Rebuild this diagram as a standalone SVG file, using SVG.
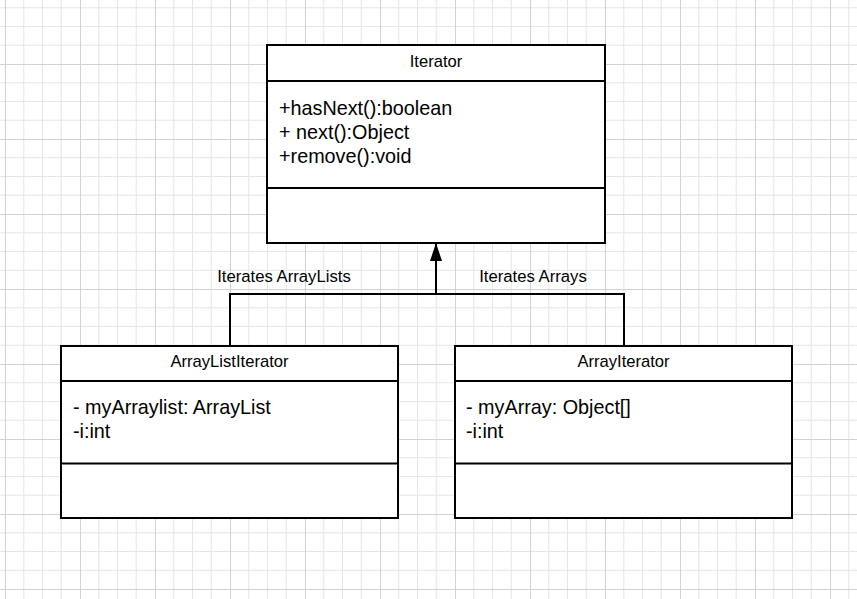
<svg xmlns="http://www.w3.org/2000/svg" width="857" height="599" viewBox="0 0 857 599">
<defs>
<pattern id="grid" patternUnits="userSpaceOnUse" x="5" y="-11" width="75" height="75">
<rect x="0" y="0" width="75" height="75" fill="#fff"/>
<g stroke="#e6e6e6" stroke-width="1">
<line x1="18.75" y1="0" x2="18.75" y2="75"/><line x1="37.5" y1="0" x2="37.5" y2="75"/><line x1="56.25" y1="0" x2="56.25" y2="75"/>
<line x1="0" y1="18.75" x2="75" y2="18.75"/><line x1="0" y1="37.5" x2="75" y2="37.5"/><line x1="0" y1="56.25" x2="75" y2="56.25"/>
</g>
<g stroke="#d2d2d2" stroke-width="1">
<line x1="0.5" y1="0" x2="0.5" y2="75"/><line x1="0" y1="0.5" x2="75" y2="0.5"/>
</g>
</pattern>
<marker id="arrow" markerUnits="userSpaceOnUse" markerWidth="18" markerHeight="12" refX="18" refY="6" orient="auto" viewBox="0 0 18 12">
<path d="M0,0 L18,6 L0,12 Z" fill="#000"/>
</marker>
</defs>
<style>
.box{fill:#fff;stroke:#000;stroke-width:2}
.div{stroke:#000;stroke-width:2}
.t{font-family:"Liberation Sans",Arial,sans-serif;fill:#000}
.h{font-size:16.6px;text-anchor:middle}
.b{font-size:19.8px}
.l{font-size:16.7px;text-anchor:middle}
.c{fill:none;stroke:#000;stroke-width:2}
</style>
<rect width="857" height="599" fill="url(#grid)"/>
<g id="connectors">
<polyline class="c" points="230,345 230,294 624,294 624,345"/>
<line class="c" x1="436" y1="294" x2="436" y2="243" marker-end="url(#arrow)"/>
<text class="t l" x="284" y="282">Iterates ArrayLists</text>
<text class="t l" x="533" y="282">Iterates Arrays</text>
</g>
<g id="Iterator">
<rect class="box" x="267" y="45" width="338" height="198"/>
<line class="div" x1="267" y1="81" x2="605" y2="81"/>
<line class="div" x1="267" y1="188" x2="605" y2="188"/>
<text class="t h" x="436" y="66.5">Iterator</text>
<text class="t b" x="279" y="115">+hasNext():boolean</text>
<text class="t b" x="279" y="139">+ next():Object</text>
<text class="t b" x="279" y="163">+remove():void</text>
</g>
<g id="ArrayListIterator">
<rect class="box" x="61" y="346" width="337" height="172"/>
<line class="div" x1="61" y1="381" x2="398" y2="381"/>
<line class="div" x1="61" y1="463.5" x2="398" y2="463.5"/>
<text class="t h" x="229.5" y="367">ArrayListIterator</text>
<text class="t b" x="73" y="414">- myArraylist: ArrayList</text>
<text class="t b" x="73" y="437.5">-i:int</text>
</g>
<g id="ArrayIterator">
<rect class="box" x="455" y="346" width="337" height="172"/>
<line class="div" x1="455" y1="381" x2="792" y2="381"/>
<line class="div" x1="455" y1="463.5" x2="792" y2="463.5"/>
<text class="t h" x="623.5" y="367">ArrayIterator</text>
<text class="t b" x="466" y="414">- myArray: Object[]</text>
<text class="t b" x="466" y="437.5">-i:int</text>
</g>
</svg>
